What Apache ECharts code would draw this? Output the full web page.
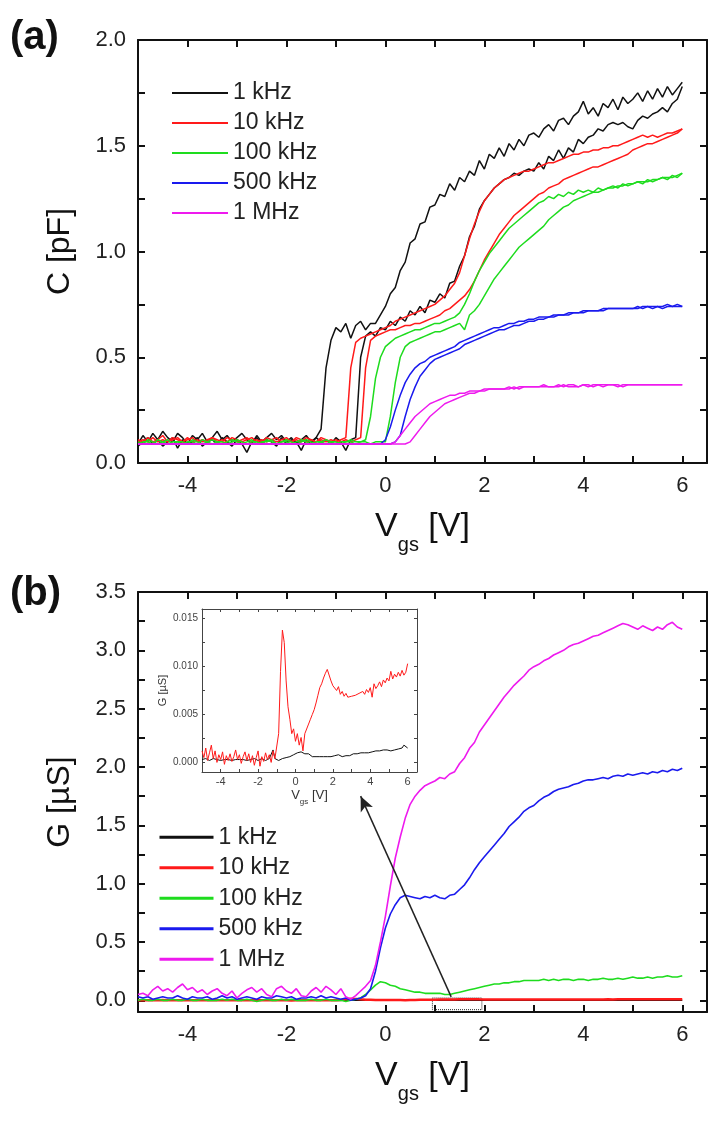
<!DOCTYPE html>
<html><head><meta charset="utf-8">
<script src="https://cdn.jsdelivr.net/npm/echarts@6/dist/echarts.min.js"></script>
<style>html,body{margin:0;padding:0;background:#fff}#c{width:722px;height:1124px}</style>
</head><body><div id="c"></div>
<script>
// ---- sweep voltage grid (V) ----
const V = [
-5.0,-4.9,-4.8,-4.7,-4.6,-4.5,-4.4,-4.3,-4.2,-4.1,
-4.0,-3.9,-3.8,-3.7,-3.6,-3.5,-3.4,-3.3,-3.2,-3.1,
-3.0,-2.9,-2.8,-2.7,-2.6,-2.5,-2.4,-2.3,-2.2,-2.1,
-2.0,-1.9,-1.8,-1.7,-1.6,-1.5,-1.4,-1.3,-1.2,-1.1,
-1.0,-0.9,-0.8,-0.7,-0.6,-0.5,-0.4,-0.3,-0.2,-0.1,
0.0,0.1,0.2,0.3,0.4,0.5,0.6,0.7,0.8,0.9,
1.0,1.1,1.2,1.3,1.4,1.5,1.6,1.7,1.8,1.9,
2.0,2.1,2.2,2.3,2.4,2.5,2.6,2.7,2.8,2.9,
3.0,3.1,3.2,3.3,3.4,3.5,3.6,3.7,3.8,3.9,
4.0,4.1,4.2,4.3,4.4,4.5,4.6,4.7,4.8,4.9,
5.0,5.1,5.2,5.3,5.4,5.5,5.6,5.7,5.8,5.9,
6.0];

// ---- panel (a): C [pF], two sweep branches per frequency ----
const C_1k_a = [
0.09,0.13,0.10,0.14,0.11,0.15,0.12,0.10,0.14,0.12,
0.09,0.13,0.11,0.14,0.10,0.12,0.15,0.11,0.13,0.10,
0.12,0.14,0.11,0.09,0.13,0.10,0.12,0.14,0.11,0.13,
0.10,0.12,0.09,0.11,0.13,0.10,0.12,0.16,0.45,0.58,
0.64,0.62,0.66,0.59,0.65,0.67,0.63,0.66,0.66,0.70,
0.74,0.80,0.83,0.91,0.95,1.04,1.06,1.13,1.14,1.21,
1.22,1.27,1.26,1.32,1.29,1.35,1.33,1.38,1.36,1.43,
1.39,1.46,1.44,1.49,1.45,1.51,1.48,1.53,1.50,1.55,
1.56,1.54,1.58,1.60,1.57,1.62,1.63,1.60,1.64,1.66,
1.71,1.65,1.68,1.64,1.70,1.68,1.72,1.67,1.73,1.70,
1.72,1.75,1.71,1.76,1.72,1.77,1.73,1.78,1.74,1.77,
1.80];
const C_1k_b = [
0.08,0.10,0.12,0.09,0.11,0.08,0.10,0.12,0.07,0.11,
0.09,0.10,0.12,0.08,0.10,0.11,0.09,0.12,0.10,0.08,
0.11,0.09,0.05,0.10,0.12,0.09,0.11,0.10,0.08,0.12,
0.09,0.11,0.10,0.06,0.11,0.09,0.12,0.10,0.11,0.09,
0.12,0.10,0.06,0.11,0.12,0.50,0.60,0.62,0.60,0.64,
0.63,0.67,0.65,0.69,0.67,0.72,0.70,0.74,0.71,0.77,
0.76,0.80,0.78,0.85,0.86,0.93,0.98,1.07,1.12,1.20,
1.24,1.27,1.30,1.32,1.34,1.35,1.37,1.36,1.38,1.39,
1.38,1.42,1.39,1.45,1.43,1.48,1.44,1.49,1.47,1.53,
1.51,1.54,1.55,1.58,1.57,1.60,1.61,1.60,1.61,1.59,
1.58,1.62,1.64,1.63,1.65,1.66,1.68,1.66,1.70,1.72,
1.78];
const C_10k_a = [
0.11,0.10,0.12,0.10,0.11,0.13,0.10,0.11,0.12,0.10,
0.11,0.12,0.10,0.11,0.10,0.12,0.11,0.10,0.12,0.11,
0.10,0.11,0.12,0.10,0.11,0.10,0.12,0.11,0.10,0.11,
0.12,0.10,0.11,0.10,0.12,0.11,0.10,0.11,0.10,0.11,
0.10,0.11,0.12,0.45,0.57,0.59,0.60,0.61,0.62,0.63,
0.64,0.65,0.67,0.68,0.69,0.70,0.71,0.72,0.73,0.74,
0.75,0.77,0.79,0.82,0.85,0.90,0.98,1.06,1.13,1.19,
1.24,1.27,1.30,1.32,1.34,1.35,1.36,1.37,1.38,1.38,
1.39,1.40,1.41,1.42,1.42,1.43,1.44,1.45,1.46,1.46,
1.47,1.47,1.48,1.48,1.49,1.49,1.50,1.50,1.51,1.52,
1.53,1.54,1.55,1.54,1.55,1.54,1.55,1.56,1.56,1.57,
1.58];
const C_10k_b = [
0.10,0.11,0.10,0.12,0.10,0.11,0.10,0.12,0.11,0.10,
0.12,0.10,0.11,0.10,0.11,0.12,0.10,0.11,0.10,0.12,
0.11,0.10,0.11,0.12,0.10,0.11,0.10,0.11,0.12,0.10,
0.11,0.10,0.12,0.11,0.10,0.11,0.10,0.12,0.11,0.10,
0.11,0.10,0.11,0.10,0.11,0.12,0.45,0.58,0.60,0.61,
0.62,0.63,0.63,0.64,0.65,0.65,0.66,0.66,0.67,0.68,
0.69,0.70,0.72,0.73,0.75,0.77,0.79,0.82,0.86,0.91,
0.96,1.00,1.04,1.08,1.11,1.14,1.17,1.19,1.21,1.23,
1.25,1.27,1.28,1.30,1.31,1.32,1.34,1.35,1.36,1.37,
1.38,1.39,1.40,1.40,1.41,1.42,1.43,1.44,1.45,1.46,
1.48,1.49,1.50,1.51,1.51,1.52,1.53,1.54,1.55,1.56,
1.58];
const C_100k_a = [
0.10,0.09,0.11,0.10,0.09,0.10,0.11,0.09,0.10,0.10,
0.09,0.11,0.10,0.09,0.10,0.11,0.10,0.09,0.10,0.11,
0.10,0.09,0.10,0.11,0.09,0.10,0.10,0.11,0.09,0.10,
0.11,0.10,0.09,0.10,0.11,0.10,0.09,0.10,0.11,0.10,
0.09,0.10,0.10,0.11,0.10,0.10,0.11,0.22,0.40,0.50,
0.55,0.57,0.59,0.60,0.61,0.62,0.63,0.63,0.64,0.65,
0.66,0.66,0.67,0.68,0.69,0.71,0.75,0.80,0.86,0.91,
0.95,0.99,1.02,1.05,1.08,1.11,1.13,1.15,1.17,1.19,
1.21,1.23,1.24,1.26,1.25,1.27,1.26,1.28,1.27,1.29,
1.28,1.29,1.28,1.30,1.29,1.30,1.31,1.30,1.32,1.31,
1.32,1.33,1.32,1.34,1.33,1.34,1.35,1.34,1.36,1.35,
1.37];
const C_100k_b = [
0.09,0.10,0.10,0.09,0.11,0.10,0.09,0.10,0.10,0.09,
0.10,0.10,0.09,0.11,0.10,0.09,0.10,0.10,0.09,0.10,
0.11,0.10,0.09,0.10,0.10,0.09,0.11,0.10,0.09,0.10,
0.10,0.09,0.10,0.11,0.10,0.09,0.10,0.10,0.09,0.10,
0.10,0.09,0.10,0.10,0.09,0.10,0.10,0.09,0.10,0.10,
0.10,0.22,0.38,0.50,0.55,0.57,0.58,0.59,0.60,0.61,
0.62,0.62,0.63,0.64,0.65,0.66,0.63,0.70,0.72,0.75,
0.79,0.83,0.87,0.90,0.93,0.96,0.99,1.02,1.04,1.06,
1.08,1.10,1.12,1.15,1.17,1.19,1.21,1.22,1.24,1.25,
1.26,1.27,1.28,1.28,1.29,1.30,1.30,1.31,1.31,1.32,
1.32,1.33,1.33,1.33,1.34,1.34,1.35,1.35,1.35,1.36,
1.37];
const C_500k_a = [
0.09,0.09,0.09,0.09,0.09,0.09,0.09,0.09,0.09,0.09,
0.09,0.09,0.09,0.09,0.09,0.09,0.09,0.09,0.09,0.09,
0.09,0.09,0.09,0.09,0.09,0.09,0.09,0.09,0.09,0.09,
0.09,0.09,0.09,0.09,0.09,0.09,0.09,0.09,0.09,0.09,
0.09,0.09,0.09,0.09,0.09,0.09,0.09,0.09,0.09,0.09,
0.11,0.17,0.25,0.32,0.38,0.42,0.45,0.47,0.48,0.50,
0.51,0.52,0.53,0.54,0.55,0.57,0.58,0.59,0.60,0.61,
0.62,0.63,0.64,0.64,0.65,0.66,0.66,0.67,0.67,0.68,
0.68,0.69,0.69,0.69,0.70,0.70,0.70,0.71,0.71,0.71,
0.72,0.72,0.72,0.72,0.73,0.73,0.73,0.73,0.73,0.73,
0.73,0.73,0.74,0.74,0.73,0.74,0.74,0.75,0.74,0.74,
0.74];
const C_500k_b = [
0.09,0.09,0.09,0.09,0.09,0.09,0.09,0.09,0.09,0.09,
0.09,0.09,0.09,0.09,0.09,0.09,0.09,0.09,0.09,0.09,
0.09,0.09,0.09,0.09,0.09,0.09,0.09,0.09,0.09,0.09,
0.09,0.09,0.09,0.09,0.09,0.09,0.09,0.09,0.09,0.09,
0.09,0.09,0.09,0.09,0.09,0.09,0.09,0.09,0.09,0.09,
0.09,0.09,0.10,0.13,0.22,0.30,0.36,0.41,0.44,0.47,
0.49,0.50,0.51,0.52,0.53,0.54,0.56,0.57,0.58,0.59,
0.60,0.61,0.62,0.63,0.63,0.64,0.65,0.65,0.66,0.67,
0.67,0.68,0.68,0.69,0.69,0.70,0.70,0.70,0.71,0.71,
0.71,0.72,0.72,0.72,0.72,0.73,0.73,0.73,0.73,0.73,
0.73,0.74,0.73,0.74,0.74,0.74,0.73,0.74,0.74,0.75,
0.74];
const C_1M_a = [
0.09,0.09,0.09,0.09,0.09,0.09,0.09,0.09,0.09,0.09,
0.09,0.09,0.09,0.09,0.09,0.09,0.09,0.09,0.09,0.09,
0.09,0.09,0.09,0.09,0.09,0.09,0.09,0.09,0.09,0.09,
0.09,0.09,0.09,0.09,0.09,0.09,0.09,0.09,0.09,0.09,
0.09,0.09,0.09,0.09,0.09,0.09,0.09,0.09,0.09,0.09,
0.09,0.09,0.10,0.13,0.16,0.19,0.22,0.24,0.26,0.28,
0.29,0.30,0.31,0.32,0.32,0.33,0.33,0.34,0.34,0.34,
0.35,0.35,0.35,0.35,0.35,0.35,0.36,0.35,0.36,0.36,
0.36,0.36,0.36,0.36,0.36,0.36,0.37,0.36,0.36,0.36,
0.37,0.36,0.37,0.37,0.36,0.37,0.37,0.37,0.36,0.37,
0.37,0.37,0.37,0.37,0.37,0.37,0.37,0.37,0.37,0.37,
0.37];
const C_1M_b = [
0.09,0.09,0.09,0.09,0.09,0.09,0.09,0.09,0.09,0.09,
0.09,0.09,0.09,0.09,0.09,0.09,0.09,0.09,0.09,0.09,
0.09,0.09,0.09,0.09,0.09,0.09,0.09,0.09,0.09,0.09,
0.09,0.09,0.09,0.09,0.09,0.09,0.09,0.09,0.09,0.09,
0.09,0.09,0.09,0.09,0.09,0.09,0.09,0.09,0.09,0.09,
0.09,0.09,0.09,0.09,0.09,0.10,0.13,0.16,0.19,0.22,
0.24,0.26,0.28,0.29,0.30,0.31,0.32,0.33,0.33,0.34,
0.34,0.35,0.35,0.35,0.35,0.36,0.35,0.36,0.36,0.36,
0.36,0.36,0.37,0.36,0.36,0.37,0.36,0.37,0.37,0.36,
0.37,0.37,0.36,0.37,0.37,0.37,0.37,0.36,0.37,0.37,
0.37,0.37,0.37,0.37,0.37,0.37,0.37,0.37,0.37,0.37,
0.37];

// ---- panel (b): G [uS] ----
const G_10k = [
0.0012,0.0005,0.0015,0.0002,0.0010,0.0018,0.0004,0.0012,0.0000,0.0008,
0.0003,0.0011,-0.0002,0.0007,0.0002,0.0009,0.0001,0.0006,0.0013,0.0003,
0.0008,-0.0001,0.0006,0.0011,0.0002,0.0009,0.0000,0.0007,-0.0003,0.0005,
0.0012,-0.0004,0.0006,0.0001,0.0010,0.0003,0.0008,0.0000,0.0012,0.0004,
0.0006,0.0030,0.0095,0.0138,0.0125,0.0085,0.0058,0.0045,0.0030,0.0035,
0.0022,0.0030,0.0018,0.0026,0.0012,0.0030,0.0028,0.0040,0.0045,0.0050,
0.0055,0.0062,0.0070,0.0078,0.0082,0.0088,0.0093,0.0097,0.0096,0.0085,
0.0080,0.0078,0.0075,0.0079,0.0071,0.0074,0.0069,0.0072,0.0068,0.0066,
0.0069,0.0067,0.0070,0.0068,0.0072,0.0070,0.0074,0.0071,0.0076,0.0073,
0.0078,0.0068,0.0082,0.0077,0.0080,0.0084,0.0079,0.0086,0.0083,0.0088,
0.0085,0.0095,0.0087,0.0092,0.0089,0.0094,0.0090,0.0096,0.0091,0.0094,
0.0103];
const G_1k = [
0.0003,0.0002,0.0004,0.0003,0.0002,0.0003,0.0004,0.0002,0.0003,0.0003,
0.0002,0.0004,0.0003,0.0002,0.0003,0.0003,0.0002,0.0004,0.0003,0.0002,
0.0003,0.0002,0.0003,0.0004,0.0002,0.0003,0.0003,0.0002,0.0004,0.0003,
0.0002,0.0003,0.0004,0.0003,0.0002,0.0003,0.0004,0.0006,0.0013,0.0004,
0.0003,0.0002,0.0003,0.0004,0.0003,0.0005,0.0004,0.0006,0.0007,0.0008,
0.0009,0.0010,0.0009,0.0011,0.0010,0.0009,0.0008,0.0009,0.0007,0.0006,
0.0007,0.0006,0.0005,0.0006,0.0005,0.0006,0.0005,0.0006,0.0007,0.0006,
0.0006,0.0007,0.0006,0.0008,0.0007,0.0006,0.0008,0.0007,0.0008,0.0007,
0.0008,0.0009,0.0008,0.0009,0.0008,0.0010,0.0009,0.0010,0.0009,0.0010,
0.0010,0.0011,0.0010,0.0012,0.0011,0.0012,0.0011,0.0013,0.0012,0.0013,
0.0013,0.0012,0.0014,0.0013,0.0015,0.0014,0.0016,0.0015,0.0018,0.0017,
0.0015];
const G_100k = [
0.00,0.01,0.00,0.00,0.01,0.00,0.00,0.01,0.00,0.00,
0.01,0.00,0.00,0.01,0.00,0.00,0.00,0.01,0.00,0.01,
0.00,0.00,0.01,0.00,-0.01,0.00,0.01,0.00,0.00,0.01,
0.00,0.01,0.00,0.00,0.00,0.01,0.00,0.00,0.01,0.00,
0.00,0.00,-0.01,0.00,0.01,0.02,0.05,0.09,0.13,0.16,
0.15,0.13,0.12,0.10,0.09,0.08,0.07,0.07,0.06,0.06,
0.06,0.06,0.05,0.05,0.06,0.07,0.08,0.09,0.10,0.11,
0.12,0.13,0.14,0.14,0.15,0.15,0.16,0.16,0.17,0.17,
0.17,0.17,0.18,0.17,0.18,0.17,0.18,0.18,0.17,0.18,
0.18,0.17,0.18,0.18,0.19,0.18,0.18,0.19,0.18,0.19,
0.20,0.19,0.19,0.20,0.19,0.20,0.20,0.21,0.20,0.20,
0.21];
const G_500k = [
0.03,0.02,0.03,0.01,0.02,0.03,0.02,0.02,0.04,0.02,
0.01,0.03,0.02,0.02,0.03,0.01,0.02,0.04,0.02,0.03,
0.01,0.02,0.03,0.02,0.01,0.03,0.02,0.02,0.04,0.03,
0.02,0.03,0.01,0.02,0.02,0.03,0.02,0.04,0.02,0.03,
0.02,0.01,0.02,0.00,0.01,0.02,0.04,0.10,0.25,0.45,
0.62,0.74,0.82,0.88,0.90,0.89,0.88,0.87,0.89,0.88,
0.90,0.88,0.87,0.90,0.91,0.95,0.99,1.05,1.12,1.18,
1.23,1.28,1.33,1.38,1.43,1.49,1.53,1.57,1.62,1.65,
1.67,1.71,1.74,1.76,1.79,1.81,1.82,1.83,1.85,1.86,
1.88,1.89,1.89,1.90,1.91,1.90,1.92,1.93,1.92,1.94,
1.93,1.94,1.95,1.94,1.96,1.95,1.97,1.96,1.98,1.97,
1.99];
const G_1M = [
0.05,0.06,0.04,0.09,0.12,0.08,0.10,0.07,0.11,0.14,
0.09,0.11,0.07,0.09,0.05,0.08,0.10,0.06,0.04,0.08,
0.02,0.06,0.09,0.11,0.07,0.10,0.05,0.03,0.10,0.12,
0.08,0.06,0.10,0.04,0.03,0.08,0.11,0.07,0.12,0.09,
0.05,0.10,0.03,0.01,0.04,0.08,0.12,0.17,0.30,0.50,
0.72,0.98,1.22,1.40,1.56,1.68,1.75,1.80,1.84,1.86,
1.88,1.91,1.90,1.94,1.96,2.03,2.08,2.16,2.21,2.30,
2.36,2.42,2.48,2.54,2.60,2.65,2.70,2.74,2.78,2.83,
2.86,2.88,2.91,2.93,2.96,2.98,3.00,3.03,3.05,3.06,
3.08,3.10,3.12,3.13,3.15,3.17,3.19,3.21,3.23,3.22,
3.20,3.18,3.21,3.19,3.17,3.20,3.18,3.22,3.24,3.20,
3.18];

// ---- labels / ticks ----
const NAMES = ['1 kHz','10 kHz','100 kHz','500 kHz','1 MHz'];
const COLORS = ['#111111','#ff1a1a','#1edc1e','#1a1aee','#ee1aee'];
const X_TICKS = [-5,-4,-3,-2,-1,0,1,2,3,4,5,6];
const X_LABELS = [-4,-2,0,2,4,6];
const YA_TICKS = [0,0.25,0.5,0.75,1,1.25,1.5,1.75,2];
const YA_LABELS = [0,0.5,1,1.5,2];
const YB_TICKS = [0,0.25,0.5,0.75,1,1.25,1.5,1.75,2,2.25,2.5,2.75,3,3.25,3.5];
const YB_LABELS = [0,0.5,1,1.5,2,2.5,3,3.5];
const YI_TICKS = [0,0.0025,0.005,0.0075,0.01,0.0125,0.015];
const YI_LABELS = [0,0.005,0.01,0.015];
const ARROW_FROM = [1.33, 0.03], ARROW_TO = [-0.5, 1.75];
const ZOOM_BOX = [[0.95, 0.02], [1.95, -0.08]];

const FONT = "'Liberation Sans', Arial, Helvetica, sans-serif";
const pts = arr => V.map((x, i) => [x, arr[i]]);

function xPair(g, o) {
  const base = {
    type: 'value', gridIndex: g, min: -5, max: 6.5,
    axisLine: { show: true, onZero: false, lineStyle: { color: o.col, width: o.lw } },
    axisTick: { show: true, inside: true, length: o.tl, customValues: X_TICKS, lineStyle: { color: o.col, width: o.lw } },
    splitLine: { show: false }
  };
  return [
    Object.assign({}, base, {
      position: 'bottom',
      axisLabel: { show: true, customValues: X_LABELS, fontSize: o.fs, color: o.lc, fontFamily: FONT, margin: o.m, formatter: v => String(v) },
      name: o.name, nameLocation: 'middle', nameGap: o.ng, nameTextStyle: o.nts
    }),
    Object.assign({}, base, { position: 'top', axisLabel: { show: false } })
  ];
}
function yPair(g, o) {
  const base = {
    type: 'value', gridIndex: g, min: o.min, max: o.max,
    axisLine: { show: true, onZero: false, lineStyle: { color: o.col, width: o.lw } },
    axisTick: { show: true, inside: true, length: o.tl, customValues: o.ticks, lineStyle: { color: o.col, width: o.lw } },
    splitLine: { show: false }
  };
  return [
    Object.assign({}, base, {
      position: 'left',
      axisLabel: { show: true, customValues: o.labels, fontSize: o.fs, color: o.lc, fontFamily: FONT, margin: o.m, formatter: v => v.toFixed(o.dec) },
      name: o.name, nameLocation: 'middle', nameGap: o.ng, nameTextStyle: o.nts
    }),
    Object.assign({}, base, { position: 'right', axisLabel: { show: false } })
  ];
}
const bigName = {
  fontFamily: FONT, color: '#111',
  rich: {
    a: { fontSize: 34, fontFamily: FONT, color: '#111', lineHeight: 56, verticalAlign: 'middle' },
    b: { fontSize: 20, fontFamily: FONT, color: '#111', lineHeight: 56, verticalAlign: 'bottom' }
  }
};
const smallName = {
  fontFamily: FONT, color: '#333',
  rich: {
    a: { fontSize: 13, fontFamily: FONT, color: '#333', lineHeight: 22, verticalAlign: 'middle' },
    b: { fontSize: 8, fontFamily: FONT, color: '#333', lineHeight: 22, verticalAlign: 'bottom' }
  }
};
const vgsName = '{a|V}{b|gs}{a| [V]}';
const mainAx = { col: '#111', lw: 2, tl: 7, fs: 22, lc: '#222', m: 12 };
const insetAx = { col: '#444', lw: 1, tl: 3, fs: 10, lc: '#444', m: 4 };

const xAxis = [].concat(
  xPair(0, Object.assign({}, mainAx, { name: vgsName, ng: 36, nts: bigName })),
  xPair(1, Object.assign({}, mainAx, { name: vgsName, ng: 36, nts: bigName })),
  xPair(2, Object.assign({}, insetAx, { fs: 11, name: vgsName, ng: 12, nts: smallName }))
);
const yAxis = [].concat(
  yPair(0, Object.assign({}, mainAx, { min: 0, max: 2, ticks: YA_TICKS, labels: YA_LABELS, dec: 1, name: 'C [pF]', ng: 62,
    nts: { fontSize: 32, fontFamily: FONT, color: '#111' } })),
  yPair(1, Object.assign({}, mainAx, { min: -0.1, max: 3.5, ticks: YB_TICKS, labels: YB_LABELS, dec: 1, name: 'G [\u00b5S]', ng: 62,
    nts: { fontSize: 32, fontFamily: FONT, color: '#111' } })),
  yPair(2, Object.assign({}, insetAx, { min: -0.001, max: 0.016, ticks: YI_TICKS, labels: YI_LABELS, dec: 3, name: 'G [\u00b5S]', ng: 34,
    nts: { fontSize: 11, fontFamily: FONT, color: '#333' } }))
);

function line(name, arr, color, xi, yi, w, extra) {
  return Object.assign({
    type: 'line', name: name, data: pts(arr), xAxisIndex: xi, yAxisIndex: yi,
    symbol: 'none', showSymbol: false, silent: true, animation: false,
    lineStyle: { color: color, width: w }, itemStyle: { color: color }
  }, extra || {});
}

const series = [
  // panel (a)
  line(NAMES[0], C_1k_a, COLORS[0], 0, 0, 1.5),
  line(NAMES[0], C_1k_b, COLORS[0], 0, 0, 1.5),
  line(NAMES[1], C_10k_a, COLORS[1], 0, 0, 1.5),
  line(NAMES[1], C_10k_b, COLORS[1], 0, 0, 1.5),
  line(NAMES[2], C_100k_a, COLORS[2], 0, 0, 1.5),
  line(NAMES[2], C_100k_b, COLORS[2], 0, 0, 1.5),
  line(NAMES[3], C_500k_a, COLORS[3], 0, 0, 1.5),
  line(NAMES[3], C_500k_b, COLORS[3], 0, 0, 1.5),
  line(NAMES[4], C_1M_a, COLORS[4], 0, 0, 1.5),
  line(NAMES[4], C_1M_b, COLORS[4], 0, 0, 1.5),
  // panel (b)
  line(NAMES[0], G_1k, COLORS[0], 2, 2, 1.5),
  line(NAMES[1], G_10k, COLORS[1], 2, 2, 2.5),
  line(NAMES[2], G_100k, COLORS[2], 2, 2, 1.6, {
    markLine: {
      silent: true, animation: false, symbol: ['none', 'arrow'], symbolSize: [10, 15],
      label: { show: false }, lineStyle: { color: '#222', width: 1.5, type: 'solid' },
      data: [[{ coord: ARROW_FROM }, { coord: ARROW_TO }]]
    },
    markArea: {
      silent: true, animation: false, label: { show: false },
      itemStyle: { color: 'rgba(0,0,0,0)', borderColor: '#222', borderWidth: 1, borderType: 'dotted' },
      data: [[{ coord: ZOOM_BOX[0] }, { coord: ZOOM_BOX[1] }]]
    }
  }),
  line(NAMES[3], G_500k, COLORS[3], 2, 2, 1.6),
  line(NAMES[4], G_1M, COLORS[4], 2, 2, 1.6),
  // inset
  line('inset 1 kHz', G_1k, COLORS[0], 4, 4, 1),
  line('inset 10 kHz', G_10k, COLORS[1], 4, 4, 1)
];

const chart = echarts.init(document.getElementById('c'), null, { renderer: 'canvas' });
chart.setOption({
  backgroundColor: '#fff',
  animation: false,
  grid: [
    { left: 138, top: 40, width: 569, height: 423, outerBoundsMode: 'none' },
    { left: 138, top: 592, width: 569, height: 420, outerBoundsMode: 'none' },
    { left: 202, top: 609, width: 215, height: 163, show: true, backgroundColor: '#fff', borderWidth: 0, outerBoundsMode: 'none' }
  ],
  xAxis: xAxis,
  yAxis: yAxis,
  legend: [
    {
      left: 166, top: 73, orient: 'vertical', itemWidth: 56, itemHeight: 14, itemGap: 0, selectedMode: false,
      itemStyle: { opacity: 0 },
      textStyle: { fontSize: 23, color: '#222', fontFamily: FONT, lineHeight: 30 },
      data: NAMES.map((n, i) => ({ name: n, itemStyle: { opacity: 0 }, lineStyle: { width: 2, color: COLORS[i] } }))
    },
    {
      left: 153, top: 817, orient: 'vertical', itemWidth: 54, itemHeight: 14, itemGap: 0, selectedMode: false,
      itemStyle: { opacity: 0 },
      textStyle: { fontSize: 23, color: '#222', fontFamily: FONT, lineHeight: 30.5 },
      data: NAMES.map((n, i) => ({ name: n, itemStyle: { opacity: 0 }, lineStyle: { width: 3, color: COLORS[i] } }))
    }
  ],
  graphic: [
    { type: 'text', left: 10, top: 18, style: { text: '(a)', font: 'bold 40px ' + FONT, fill: '#111' } },
    { type: 'text', left: 10, top: 574, style: { text: '(b)', font: 'bold 40px ' + FONT, fill: '#111' } }
  ],
  series: series
});
</script>
</body></html>
